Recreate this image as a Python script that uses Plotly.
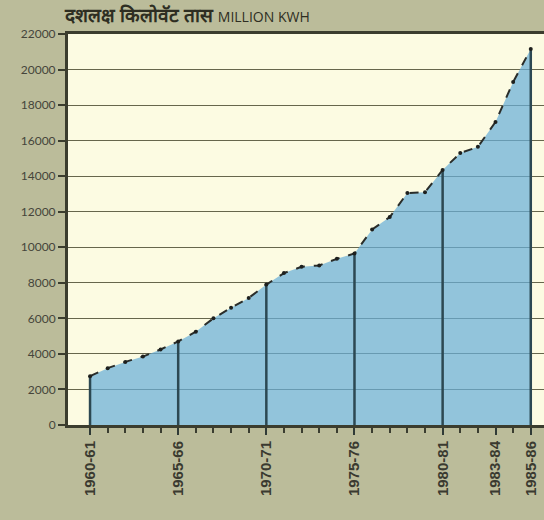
import plotly.graph_objects as go

# Выработка электроэнергии, млн кВт·ч
years = list(range(1960, 1986))
values = [2750, 3200, 3550, 3850, 4250, 4700, 5250, 6000, 6600, 7150,
          7900, 8550, 8900, 8980, 9350, 9650, 11000, 11700, 13050, 13100,
          14350, 15300, 15650, 17050, 19300, 21150]

label_years = [1960, 1965, 1970, 1975, 1980, 1983, 1985]
label_text = ['1960-61', '1965-66', '1970-71', '1975-76', '1980-81', '1983-84', '1985-86']
drop_years = [1960, 1965, 1970, 1975, 1980, 1985]

y_ticks = list(range(0, 22001, 2000))

# вертикальные линии от нуля до значения
drop_x, drop_y = [], []
for yr in drop_years:
    v = values[years.index(yr)]
    drop_x += [yr, yr, None]
    drop_y += [0, v, None]

fig = go.Figure()

fig.add_trace(go.Scatter(
    x=years, y=values,
    mode='none',
    fill='tozeroy',
    fillcolor='rgba(105,174,216,0.72)',
    hoverinfo='skip'
))

fig.add_trace(go.Scatter(
    x=drop_x, y=drop_y,
    mode='lines',
    line=dict(color='#2c4852', width=2.5),
    hoverinfo='skip'
))

fig.add_trace(go.Scatter(
    x=years, y=values,
    mode='lines+markers',
    line=dict(color='#2a2d2a', width=2, dash='dash'),
    marker=dict(color='#1e201e', size=4)
))

fig.update_layout(
    width=544, height=520,
    margin=dict(l=68, r=0, t=34, b=95),
    paper_bgcolor='#bbbc9a',
    plot_bgcolor='#fcfbe2',
    showlegend=False,
    font=dict(family='Lato, sans-serif', color='#3a3a2c'),
    xaxis=dict(
        range=[1958.75, 1985.75],
        tickmode='array', tickvals=label_years, ticktext=label_text,
        tickangle=-90,
        tickfont=dict(family='Liberation Sans, Arial', size=15, color='#3a3a30', weight='bold'),
        ticks='outside', ticklen=7, tickwidth=2, tickcolor='#2f3a36',
        minor=dict(tickvals=years, ticks='outside', ticklen=5, tickwidth=2, tickcolor='#3a3d30'),
        showgrid=False, zeroline=False,
        showline=True, linecolor='#3b3d2e', linewidth=3, mirror=True,
    ),
    yaxis=dict(
        range=[0, 22000],
        tickmode='array', tickvals=y_ticks, tickformat='d',
        tickfont=dict(family='Lato, sans-serif', size=12, color='#45453a'),
        ticks='outside', ticklen=7, tickwidth=2, tickcolor='#3b3d2e',
        showgrid=True, gridcolor='#66664c', gridwidth=1.3,
        zeroline=False,
        showline=True, linecolor='#3b3d2e', linewidth=3,
    ),
)

fig.add_annotation(
    xref='paper', yref='paper', x=-0.013, y=1.0, yshift=19,
    xanchor='left', yanchor='middle',
    text='<b>दशलक्ष किलोवॅट तास</b> <span style="font-size:14px">MILLION KWH</span>',
    showarrow=False,
    font=dict(size=19, color='#2e2e22', family='Open Sans, sans-serif'),
)

# убираем отступ body, чтобы график начинался с угла страницы
fig.write_html("out.html", config={'displayModeBar': False},
               post_script="document.body.style.margin='0';")
